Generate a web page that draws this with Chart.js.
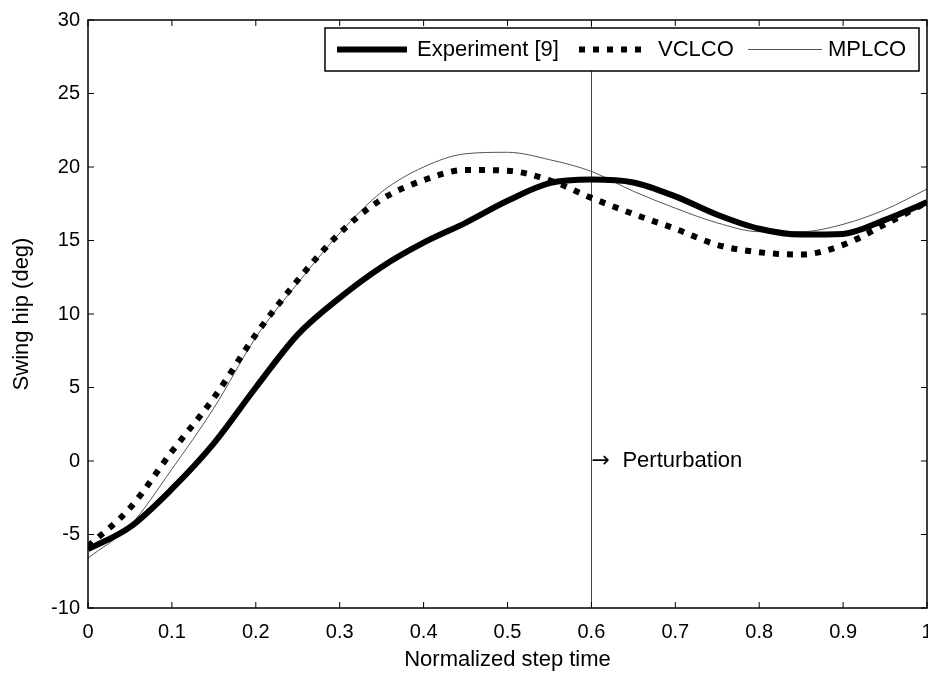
<!DOCTYPE html>
<html>
<head>
<meta charset="utf-8">
<script src="https://cdn.jsdelivr.net/npm/chart.js@4"></script>
<style>
  html, body { margin: 0; padding: 0; background: #fff; }
  #wrap { width: 928px; height: 675px; }
</style>
</head>
<body>
<div id="wrap"><canvas id="myChart" width="928" height="675"></canvas></div>
<script>
// normalized step time
const stepTime = [0, 0.05, 0.1, 0.15, 0.2, 0.25, 0.3, 0.35, 0.4, 0.45, 0.5,
  0.55, 0.6, 0.65, 0.7, 0.75, 0.8, 0.85, 0.9, 0.95, 1];

// swing hip angle (deg)
const experiment = [-6.0, -4.5, -1.9, 1.2, 5.0, 8.6, 11.1, 13.2, 14.85, 16.2, 17.7,
  18.9, 19.15, 18.95, 18.0, 16.75, 15.8, 15.4, 15.45, 16.4, 17.6];
const vclco = [-5.8, -3.2, 0.65, 4.3, 8.6, 12.3, 15.5, 17.8, 19.1, 19.8, 19.75,
  19.1, 17.9, 16.8, 15.8, 14.7, 14.2, 14.05, 14.7, 16.1, 17.6];
const mplco = [-6.6, -4.4, -0.55, 3.6, 8.4, 12.1, 15.5, 18.3, 20.0, 20.9, 21.0,
  20.5, 19.7, 18.35, 17.2, 16.2, 15.6, 15.6, 16.1, 17.1, 18.5];

const xTicks = [0, 0.1, 0.2, 0.3, 0.4, 0.5, 0.6, 0.7, 0.8, 0.9, 1];
const yTicks = [-10, -5, 0, 5, 10, 15, 20, 25, 30];
const perturbationAt = 0.6;

const FONT = 'Liberation Sans, Arial, sans-serif';

function points(values) {
  return stepTime.map((t, i) => ({ x: t, y: values[i] }));
}

const data = {
  datasets: [
    {
      label: 'Experiment [9]',
      data: points(experiment),
      borderColor: '#000',
      borderWidth: 6,
      pointRadius: 0,
      cubicInterpolationMode: 'monotone',
    },
    {
      label: 'VCLCO',
      data: points(vclco),
      borderColor: '#000',
      borderWidth: 6,
      borderDash: [6, 8],
      borderCapStyle: 'butt',
      pointRadius: 0,
      cubicInterpolationMode: 'monotone',
    },
    {
      label: 'MPLCO',
      data: points(mplco),
      borderColor: '#555',
      borderWidth: 1,
      pointRadius: 0,
      cubicInterpolationMode: 'monotone',
    },
  ],
};

// frame, inward ticks, perturbation marker and boxed legend
const extras = {
  id: 'extras',
  beforeDatasetsDraw(chart) {
    const { ctx, chartArea, scales } = chart;
    const px = scales.x.getPixelForValue(perturbationAt);
    const py = scales.y.getPixelForValue(0);
    ctx.save();
    ctx.strokeStyle = '#444';
    ctx.lineWidth = 1;
    ctx.beginPath();
    ctx.moveTo(Math.round(px) + 0.5, chartArea.top);
    ctx.lineTo(Math.round(px) + 0.5, chartArea.bottom);
    ctx.stroke();
    ctx.fillStyle = '#000';
    ctx.textBaseline = 'middle';
    ctx.font = '22px DejaVu Sans, sans-serif';
    ctx.fillText('\u2192', px, py);
    ctx.font = '22px ' + FONT;
    ctx.fillText('Perturbation', px + 31, py);
    ctx.restore();
  },
  afterDraw(chart) {
    const { ctx, chartArea: a, scales } = chart;
    ctx.save();
    ctx.strokeStyle = '#000';
    ctx.lineWidth = 1.5;
    ctx.strokeRect(a.left, a.top, a.right - a.left, a.bottom - a.top);
    ctx.lineWidth = 1;
    ctx.beginPath();
    xTicks.forEach(v => {
      const x = scales.x.getPixelForValue(v);
      ctx.moveTo(x, a.bottom); ctx.lineTo(x, a.bottom - 6);
      ctx.moveTo(x, a.top); ctx.lineTo(x, a.top + 6);
    });
    yTicks.forEach(v => {
      const y = scales.y.getPixelForValue(v);
      ctx.moveTo(a.left, y); ctx.lineTo(a.left + 6, y);
      ctx.moveTo(a.right, y); ctx.lineTo(a.right - 6, y);
    });
    ctx.stroke();

    // legend box
    const box = { l: 325, t: 28, r: 919, b: 71 };
    ctx.fillStyle = '#fff';
    ctx.fillRect(box.l, box.t, box.r - box.l, box.b - box.t);
    ctx.lineWidth = 1.5;
    ctx.strokeRect(box.l, box.t, box.r - box.l, box.b - box.t);
    const slots = [[337, 407, 417], [579, 642, 658], [748, 822, 828]];
    const cy = (box.t + box.b) / 2;
    chart.data.datasets.forEach((ds, i) => {
      const [s0, s1, tx] = slots[i];
      ctx.save();
      ctx.strokeStyle = ds.borderColor;
      ctx.lineWidth = ds.borderWidth;
      ctx.setLineDash(ds.borderDash || []);
      ctx.lineCap = 'butt';
      ctx.beginPath();
      ctx.moveTo(s0, cy); ctx.lineTo(s1, cy);
      ctx.stroke();
      ctx.restore();
      ctx.fillStyle = '#000';
      ctx.font = '22px ' + FONT;
      ctx.textBaseline = 'middle';
      ctx.fillText(ds.label, tx, cy);
    });
    ctx.restore();
  },
};

const config = {
  type: 'line',
  data: data,
  options: {
    responsive: false,
    animation: false,
    layout: { autoPadding: false, padding: { top: 13, right: 1, left: 0, bottom: 0 } },
    plugins: { legend: { display: false }, tooltip: { enabled: false } },
    scales: {
      x: {
        type: 'linear',
        min: 0,
        max: 1,
        afterFit: s => { s.height = 67; s.paddingLeft = 0; s.paddingRight = 0; },
        afterBuildTicks: s => { s.ticks = xTicks.map(v => ({ value: v })); },
        grid: { display: false, drawTicks: false },
        border: { display: false },
        ticks: { color: '#000', padding: 12, maxRotation: 0, autoSkip: false,
          callback: v => String(+v.toFixed(1)),
          font: { family: FONT, size: 20 } },
        title: { display: true, text: 'Normalized step time', color: '#000',
          padding: { top: 0, bottom: 2 }, font: { family: FONT, size: 22 } },
      },
      y: {
        min: -10,
        max: 30,
        afterFit: s => { s.width = 88; },
        afterBuildTicks: s => { s.ticks = yTicks.map(v => ({ value: v })); },
        grid: { display: false, drawTicks: false },
        border: { display: false },
        ticks: { color: '#000', padding: 8, font: { family: FONT, size: 20 } },
        title: { display: true, text: 'Swing hip (deg)', color: '#000',
          padding: { top: 9, bottom: 0 }, font: { family: FONT, size: 22 } },
      },
    },
  },
  plugins: [extras],
};

const myChart = new Chart(document.getElementById('myChart'), config);
</script>
</body>
</html>
